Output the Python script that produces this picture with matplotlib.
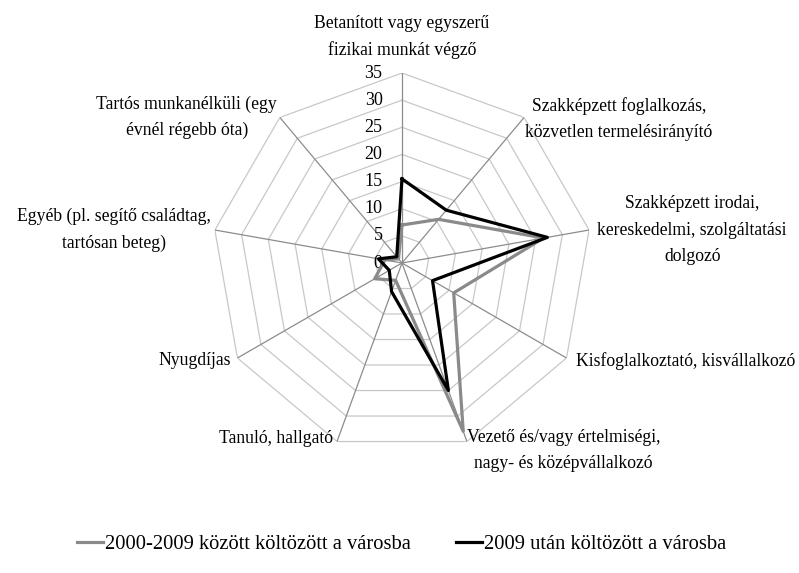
import matplotlib
matplotlib.use('Agg')
import matplotlib.pyplot as plt
import numpy as np

plt.rcParams['font.family'] = ['Liberation Serif', 'DejaVu Serif']

categories = [
    'Betanított vagy egyszerű\nfizikai munkát végző',
    'Szakképzett foglalkozás,\nközvetlen termelésirányító',
    'Szakképzett irodai,\nkereskedelmi, szolgáltatási\ndolgozó',
    'Kisfoglalkoztató, kisvállalkozó',
    'Vezető és/vagy értelmiségi,\nnagy- és középvállalkozó',
    'Tanuló, hallgató',
    'Nyugdíjas',
    'Egyéb (pl. segítő családtag,\ntartósan beteg)',
    'Tartós munkanélküli (egy\névnél régebb óta)',
]
series_names = ['2000-2009 között költözött a városba',
                '2009 után költözött a városba']
vals_2000_2009 = [7.0, 10.5, 26.5, 11.0, 33.0, 3.4, 5.8, 3.2, 1.0]
vals_2009_after = [15.5, 12.7, 27.2, 6.5, 25.0, 5.6, 2.7, 4.4, 1.5]
r_ticks = [0, 5, 10, 15, 20, 25, 30, 35]

n = len(categories)
theta = np.arange(n) * 2 * np.pi / n
theta_c = np.append(theta, theta[0])

fig = plt.figure(figsize=(7.99, 5.73), dpi=100)
ax = fig.add_axes([0.2653, 0.2094, 0.4756, 0.6632], projection='polar')
ax.set_theta_zero_location('N')
ax.set_theta_direction(-1)
ax.set_ylim(0, 35)
ax.set_xticks([])
ax.set_yticks([])
ax.grid(False)
ax.spines['polar'].set_visible(False)
ax.patch.set_visible(False)

# polygon rings and spokes
for r in r_ticks[1:]:
    ax.plot(theta_c, [r] * (n + 1), color='#c8c8c8', lw=0.9, zorder=1)
for t in theta:
    ax.plot([t, t], [0, 35], color='#8c8c8c', lw=0.9, zorder=1)

# series
ax.plot(theta_c, vals_2000_2009 + vals_2000_2009[:1], color='#8a8a8a', lw=2.3,
        zorder=3, label=series_names[0])
ax.plot(theta_c, vals_2009_after + vals_2009_after[:1], color='black', lw=2.3,
        zorder=4, label=series_names[1])

# radial tick labels
for r in r_ticks:
    ax.annotate(str(r), xy=(0, r), xytext=(-14, 0), textcoords='offset points',
                ha='right', va='center', fontsize=13, color='black', zorder=2)

# category labels
label_pos = [
    ((0, 10), 'center', 'bottom'),
    ((1, -1), 'left', 'center'),
    ((6, 0), 'left', 'center'),
    ((7, -2), 'left', 'center'),
    ((0, 9), 'left', 'top'),
    ((-3, 8), 'right', 'top'),
    ((-5, -2), 'right', 'center'),
    ((-3, 0), 'right', 'center'),
    ((-2, 0), 'right', 'center'),
]
for t, lab, (off, ha, va) in zip(theta, categories, label_pos):
    ax.annotate(lab, xy=(t, 35), xytext=off, textcoords='offset points',
                ha=ha, va=va, multialignment='center', fontsize=12.7,
                linespacing=1.7)

fig.legend(loc='center', bbox_to_anchor=(0.503, 0.05), ncol=2, frameon=False,
           fontsize=14.8, handlelength=1.25, handletextpad=0.1,
           columnspacing=2.2)

fig.savefig('out.png', dpi=100)
